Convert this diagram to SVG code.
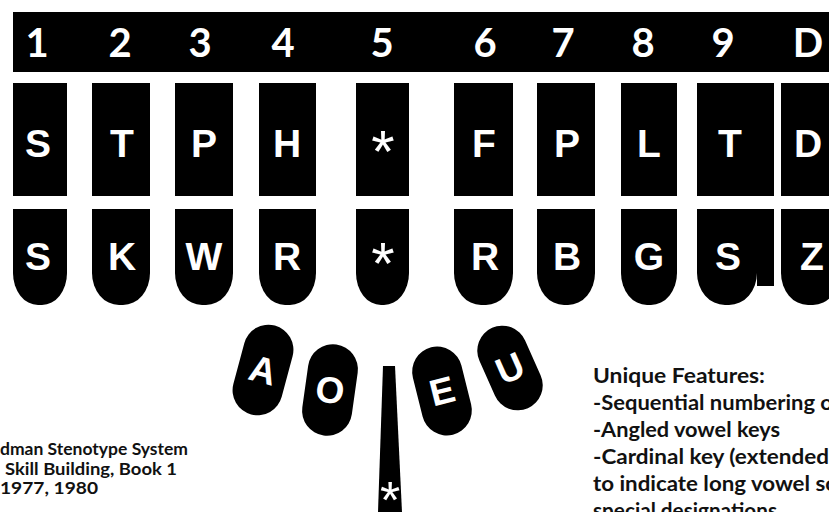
<svg xmlns="http://www.w3.org/2000/svg" width="829" height="512" viewBox="0 0 829 512">
<style>
.k{fill:#000}
.num{font-family:"Lato","Open Sans",sans-serif;font-weight:bold;font-size:40px;fill:#fff;text-anchor:middle}
.lt{font-family:"Liberation Sans",Arial,sans-serif;font-weight:bold;font-size:39px;fill:#fff;text-anchor:middle}
.st{font-family:"Liberation Sans",Arial,sans-serif;font-weight:normal;font-size:60px;fill:#fff;text-anchor:middle}
.vw{font-family:"Liberation Sans",Arial,sans-serif;font-weight:bold;font-size:37px;fill:#fff;text-anchor:middle}
.cap{font-family:"Lato","Open Sans",sans-serif;font-weight:bold;fill:#111}
</style>
<rect width="829" height="512" fill="#fff"/>
<g id="number-bar">
<rect class="k" x="13" y="12" width="830" height="60"/>
<text class="num" x="37" y="57">1</text>
<text class="num" x="120" y="57">2</text>
<text class="num" x="200" y="57">3</text>
<text class="num" x="283" y="57">4</text>
<text class="num" x="382" y="57">5</text>
<text class="num" x="485" y="57">6</text>
<text class="num" x="563" y="57">7</text>
<text class="num" x="643" y="57">8</text>
<text class="num" x="723" y="57">9</text>
<text class="num" x="808" y="57">D</text>
</g>
<g id="top-row">
<g id="key-S1"><rect class="k" x="13" y="83" width="54" height="113"/><text class="lt" x="38" y="157">S</text></g>
<g id="key-T1"><rect class="k" x="92" y="83" width="58" height="113"/><text class="lt" x="122" y="157">T</text></g>
<g id="key-P1"><rect class="k" x="175" y="83" width="58" height="113"/><text class="lt" x="204" y="157">P</text></g>
<g id="key-H"><rect class="k" x="259" y="83" width="57" height="113"/><text class="lt" x="287" y="157">H</text></g>
<g id="key-star1"><rect class="k" x="356" y="83" width="53" height="113"/><text class="st" x="383" y="172">*</text></g>
<g id="key-F"><rect class="k" x="454" y="83" width="59" height="113"/><text class="lt" x="484" y="157">F</text></g>
<g id="key-P2"><rect class="k" x="537" y="83" width="58" height="113"/><text class="lt" x="567" y="157">P</text></g>
<g id="key-L"><rect class="k" x="621" y="83" width="56" height="113"/><text class="lt" x="649" y="157">L</text></g>
<g id="key-T2"><rect class="k" x="697" y="83" width="77" height="113"/><text class="lt" x="730" y="157">T</text></g>
<g id="key-D"><rect class="k" x="781" y="83" width="60" height="113"/><text class="lt" x="808" y="157">D</text></g>
</g>
<g id="bottom-row">
<g id="key-S2"><path class="k" d="M13 209H67V273A25 32 0 0 1 42 305H38A25 32 0 0 1 13 273Z"/><text class="lt" x="38" y="270">S</text></g>
<g id="key-K"><path class="k" d="M92 209H150V273A27 32 0 0 1 123 305H119A27 32 0 0 1 92 273Z"/><text class="lt" x="122" y="270">K</text></g>
<g id="key-W"><path class="k" d="M175 209H233V273A27 32 0 0 1 206 305H202A27 32 0 0 1 175 273Z"/><text class="lt" x="204" y="270">W</text></g>
<g id="key-R1"><path class="k" d="M259 209H316V273A26 32 0 0 1 290 305H285A26 32 0 0 1 259 273Z"/><text class="lt" x="287" y="270">R</text></g>
<g id="key-star2"><path class="k" d="M356 209H409V273A25 32 0 0 1 384 305H381A25 32 0 0 1 356 273Z"/><text class="st" x="383" y="284">*</text></g>
<g id="key-R2"><path class="k" d="M454 209H513V273A27 32 0 0 1 486 305H481A27 32 0 0 1 454 273Z"/><text class="lt" x="485" y="270">R</text></g>
<g id="key-B"><path class="k" d="M537 209H595V273A27 32 0 0 1 568 305H564A27 32 0 0 1 537 273Z"/><text class="lt" x="567" y="270">B</text></g>
<g id="key-G"><path class="k" d="M621 209H677V273A26 32 0 0 1 651 305H647A26 32 0 0 1 621 273Z"/><text class="lt" x="649" y="270">G</text></g>
<g id="key-S3"><path class="k" d="M697 209H774V286H757V273A28 32 0 0 1 729 305H725A28 32 0 0 1 697 273Z"/><text class="lt" x="728" y="270">S</text></g>
<g id="key-Z"><path class="k" d="M781 209H840V273A27 32 0 0 1 813 305H808A27 32 0 0 1 781 273Z"/><text class="lt" x="812" y="270">Z</text></g>
</g>
<g id="vowels">
<g id="key-A" transform="translate(263,370) rotate(15)"><rect class="k" x="-25" y="-46" width="50" height="92" rx="25"/><text class="vw" x="0" y="13">A</text></g>
<g id="key-O" transform="translate(330,390) rotate(8)"><rect class="k" x="-25" y="-46" width="50" height="92" rx="25"/><text class="vw" x="0" y="13">O</text></g>
<g id="key-E" transform="translate(442,391) rotate(-14)"><rect class="k" x="-25" y="-45" width="50" height="90" rx="25"/><text class="vw" x="0" y="13">E</text></g>
<g id="key-U" transform="translate(510,368) rotate(-24)"><rect class="k" x="-25" y="-44" width="50" height="88" rx="25"/><text class="vw" x="0" y="13">U</text></g>
</g>
<g id="cardinal-key">
<path class="k" d="M383 366H395L402 512H378Z"/>
<text class="st" x="390" y="518" style="font-size:52px">*</text>
</g>
<g id="connectors"/>
<g id="source-text" class="cap" style="font-size:17px">
<text x="0" y="455" textLength="188" lengthAdjust="spacingAndGlyphs">dman Stenotype System</text>
<text x="5" y="475" textLength="172" lengthAdjust="spacingAndGlyphs">Skill Building, Book 1</text>
<text x="0" y="494" textLength="98" lengthAdjust="spacingAndGlyphs">1977, 1980</text>
</g>
<g id="features-text" class="cap" style="font-size:21px">
<text x="593" y="383" textLength="172" lengthAdjust="spacingAndGlyphs">Unique Features:</text>
<text x="593" y="410" textLength="240" lengthAdjust="spacingAndGlyphs">-Sequential numbering o</text>
<text x="593" y="437" textLength="187" lengthAdjust="spacingAndGlyphs">-Angled vowel keys</text>
<text x="593" y="464" textLength="236" lengthAdjust="spacingAndGlyphs">-Cardinal key (extended</text>
<text x="593" y="491" textLength="243" lengthAdjust="spacingAndGlyphs">to indicate long vowel sc</text>
<text x="593" y="518" textLength="184" lengthAdjust="spacingAndGlyphs">special designations</text>
</g>
</svg>
